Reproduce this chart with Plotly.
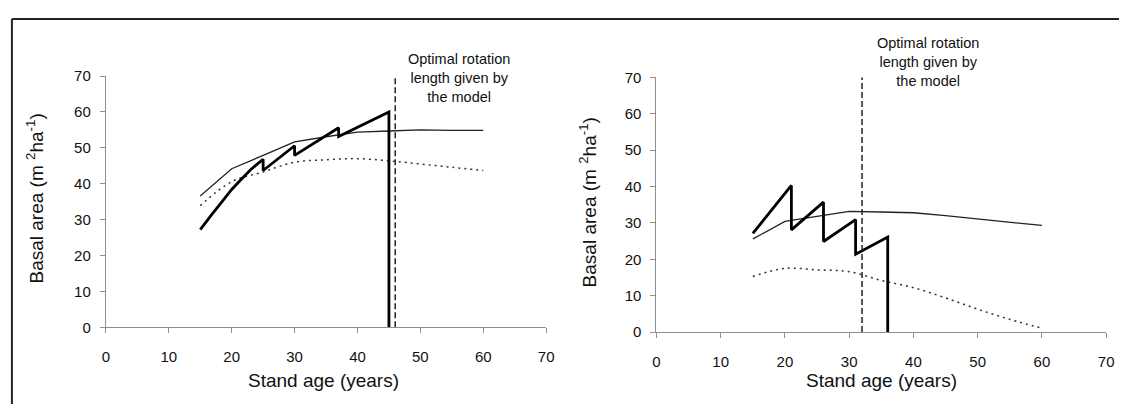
import plotly.graph_objects as go

# ---- Panel A (left) ----
age_a = [15, 20, 25, 30, 35, 40, 45, 50, 55, 60]
max_a = [36.6, 44.2, 47.9, 51.7, 53.1, 54.4, 54.7, 55.0, 54.9, 54.9]
dot_a = [33.9, 40.6, 43.3, 46.0, 46.7, 47.0, 46.4, 45.5, 44.6, 43.7]
thin_age_a = [15, 16, 17, 18, 19, 20, 21, 22, 23, 24, 25, 25, 30, 30, 37, 37, 45, 45]
thin_ba_a = [27.2, 29.6, 31.8, 34.0, 36.3, 38.4, 40.3, 42.1, 43.9, 45.4, 46.8, 43.7,
             50.6, 47.9, 55.6, 53.2, 60.0, 0.0]
rotation_a = 46

# ---- Panel B (right) ----
age_b = [15, 20, 25, 30, 35, 40, 45, 50, 55, 60]
max_b = [25.6, 30.4, 31.8, 33.2, 33.0, 32.8, 32.0, 31.1, 30.2, 29.3]
dot_b = [15.3, 17.5, 17.1, 16.6, 14.2, 12.2, 9.4, 6.3, 3.5, 1.05]
thin_age_b = [15, 17, 19, 21, 21, 26, 26, 31, 31, 36, 36]
thin_ba_b = [27.1, 31.5, 36.0, 40.3, 28.1, 35.7, 24.9, 30.9, 21.4, 26.1, 0.0]
rotation_b = 32

x_ticks = [0, 10, 20, 30, 40, 50, 60, 70]
y_ticks = [0, 10, 20, 30, 40, 50, 60, 70]

W, H = 1127, 412
FONT = "Liberation Sans, Arial, Helvetica, sans-serif"
INK = "#111111"
AXIS = "#8f8f8f"

fig = go.Figure()


def add_panel(fig, xa, ya, age, mx, dt, tage, tba, rot):
    fig.add_trace(go.Scatter(x=age, y=mx, mode="lines", xaxis=xa, yaxis=ya,
                             line=dict(color="#222222", width=1.3), showlegend=False))
    fig.add_trace(go.Scatter(x=age, y=dt, mode="lines", xaxis=xa, yaxis=ya,
                             line=dict(color="#333333", width=1.5, dash="2px,4px"),
                             line_shape="spline", showlegend=False))
    fig.add_trace(go.Scatter(x=tage, y=tba, mode="lines", xaxis=xa, yaxis=ya,
                             line=dict(color="#000000", width=2.8), showlegend=False))
    fig.add_trace(go.Scatter(x=[rot, rot], y=[0, 70], mode="lines", xaxis=xa, yaxis=ya,
                             line=dict(color="#222222", width=1.5, dash="6px,3px"),
                             showlegend=False))


add_panel(fig, "x", "y", age_a, max_a, dot_a, thin_age_a, thin_ba_a, rotation_a)
add_panel(fig, "x2", "y2", age_b, max_b, dot_b, thin_age_b, thin_ba_b, rotation_b)

axis_common = dict(
    showgrid=False, zeroline=False, showline=True, linecolor=AXIS, linewidth=1.2,
    ticks="outside", ticklen=5, tickcolor=AXIS, tickwidth=1.2,
    tickfont=dict(family=FONT, size=15, color=INK), range=[0, 70],
    fixedrange=True,
)

fig.update_layout(
    width=W, height=H, autosize=False,
    margin=dict(l=0, r=0, t=0, b=0),
    paper_bgcolor="white", plot_bgcolor="white",
    xaxis=dict(domain=[103 / W, 548 / W], anchor="y", tickvals=x_ticks,
               ticklabelstandoff=11, **axis_common),
    yaxis=dict(domain=[1 - 332 / H, 1 - 70 / H], anchor="x", tickvals=y_ticks,
               ticklabelstandoff=6, **axis_common),
    xaxis2=dict(domain=[659.5 / W, 1114 / W], anchor="y2", tickvals=x_ticks,
                ticklabelstandoff=11, **axis_common),
    yaxis2=dict(domain=[1 - 337 / H, 1 - 71.3 / H], anchor="x2", tickvals=y_ticks,
                ticklabelstandoff=6, **axis_common),
)

note = "Optimal rotation<br>length given by<br>the model"
title_font = dict(family=FONT, size=19, color=INK)
ytitle = "Basal area (m <sup>2</sup>ha<sup>-1</sup>)"
xtitle = "Stand age (years)"

annotations = [
    dict(text=note, x=460 / W, y=1 - 71.5 / H, xref="paper", yref="paper",
         showarrow=False, align="center", xanchor="center", yanchor="middle",
         font=dict(family=FONT, size=14.5, color=INK)),
    dict(text=note, x=934 / W, y=1 - 55.5 / H, xref="paper", yref="paper",
         showarrow=False, align="center", xanchor="center", yanchor="middle",
         font=dict(family=FONT, size=14.5, color=INK)),
    dict(text=xtitle, x=323 / W, y=1 - 388 / H, xref="paper", yref="paper",
         showarrow=False, xanchor="center", yanchor="middle", font=title_font),
    dict(text=xtitle, x=887 / W, y=1 - 388 / H, xref="paper", yref="paper",
         showarrow=False, xanchor="center", yanchor="middle", font=title_font),
    dict(text=ytitle, x=31 / W, y=1 - 198 / H, xref="paper", yref="paper",
         showarrow=False, textangle=-90, xanchor="center", yanchor="middle",
         font=title_font),
    dict(text=ytitle, x=590 / W, y=1 - 202 / H, xref="paper", yref="paper",
         showarrow=False, textangle=-90, xanchor="center", yanchor="middle",
         font=title_font),
]
fig.update_layout(annotations=annotations)

# open frame: top and left edges only
frame = dict(color="#222222", width=2)
fig.add_shape(type="line", xref="paper", yref="paper",
              x0=8 / W, x1=1, y0=1 - 10.5 / H, y1=1 - 10.5 / H, line=frame)
fig.add_shape(type="line", xref="paper", yref="paper",
              x0=8 / W, x1=8 / W, y0=0, y1=1 - 10.5 / H, line=frame)

fig.write_html("out.html")
